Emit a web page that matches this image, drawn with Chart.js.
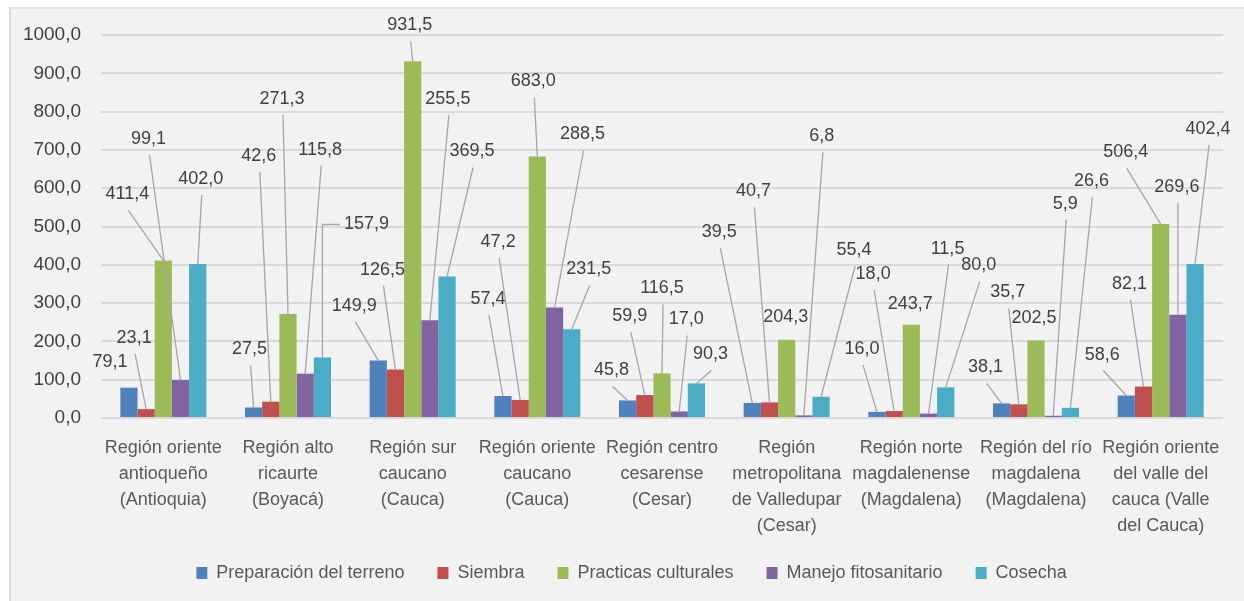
<!DOCTYPE html>
<html>
<head>
<meta charset="utf-8">
<script src="https://cdn.jsdelivr.net/npm/chart.js@4"></script>
<style>
  html, body { margin: 0; padding: 0; background: #fff; }
  #panel { position: absolute; left: 9px; top: 7px; width: 1240px; height: 600px;
           background: #f2f2f2; border-left: 2px solid #d9d9d9; border-top: 2px solid #e3e3e3; }
  #wrap { position: absolute; left: 0; top: 0; width: 1244px; height: 601px; }
</style>
</head>
<body>
<div id="panel"></div>
<div id="wrap"><canvas id="regionChart" width="1244" height="601"></canvas></div>
<script>
// Categories (regions)
const regions = [
  ["Región oriente", "antioqueño", "(Antioquia)"],
  ["Región alto", "ricaurte", "(Boyacá)"],
  ["Región sur", "caucano", "(Cauca)"],
  ["Región oriente", "caucano", "(Cauca)"],
  ["Región centro", "cesarense", "(Cesar)"],
  ["Región", "metropolitana", "de Valledupar", "(Cesar)"],
  ["Región norte", "magdalenense", "(Magdalena)"],
  ["Región del río", "magdalena", "(Magdalena)"],
  ["Región oriente", "del valle del", "cauca (Valle", "del Cauca)"]
];

// Series values
const preparacion = [79.1, 27.5, 149.9, 57.4, 45.8, 39.5, 16.0, 38.1, 58.6];
const siembra = [23.1, 42.6, 126.5, 47.2, 59.9, 40.7, 18.0, 35.7, 82.1];
const practicas = [411.4, 271.3, 931.5, 683.0, 116.5, 204.3, 243.7, 202.5, 506.4];
const manejo = [99.1, 115.8, 255.5, 288.5, 17.0, 6.8, 11.5, 5.9, 269.6];
const cosecha = [402.0, 157.9, 369.5, 231.5, 90.3, 55.4, 80.0, 26.6, 402.4];

const seriesNames = ["Preparación del terreno", "Siembra", "Practicas culturales", "Manejo fitosanitario", "Cosecha"];
const seriesColors = ['#4f81bd', '#c0504d', '#9bbb59', '#8064a2', '#4bacc6'];

// Label placement relative to bar top: [dx, dy, leader] (0 none, 1 straight, 2 elbow)
const labelOffsets = [
  [[-19, -26, 0], [-4, -58, 1], [-24, -55, 1], [-15, -97, 1], [-16, -30, 1], [-33, -171, 1], [-15, -63, 1], [-16, -36, 1], [-24, -41, 1]],
  [[-12, -71, 1], [-12, -246, 1], [-13, -100, 1], [-22, -158, 1], [-15, -79, 1], [-16, -211, 1], [-21, -137, 1], [-11, -112, 1], [-14, -103, 1]],
  [[-36, -66, 1], [-6, -215, 1], [-3, -36, 1], [-4, -75, 1], [0, -85, 1], [-1, -23, 0], [-1, -21, 0], [-2, -22, 0], [-35, -72, 1]],
  [[-32, -241, 1], [15, -224, 1], [18, -221, 1], [28, -173, 1], [7, -92, 1], [18, -279, 1], [19, -165, 1], [12, -212, 1], [-1, -128, 1]],
  [[3, -85, 1], [44, -133, 2], [25, -125, 1], [17, -60, 1], [14, -29, 1], [33, -147, 1], [33, -122, 1], [21, -227, 1], [13, -135, 1]]
];

const fmt = v => v.toFixed(1).replace('.', ',');
const FONT = '"Liberation Sans", Arial, sans-serif';

const leaderLabels = {
  id: 'leaderLabels',
  afterDatasetsDraw(chart) {
    const ctx = chart.ctx;
    ctx.save();
    ctx.font = '18px ' + FONT;
    ctx.textAlign = 'center';
    ctx.textBaseline = 'middle';
    chart.data.datasets.forEach((ds, di) => {
      chart.getDatasetMeta(di).data.forEach((bar, i) => {
        const [dx, dy, mode] = labelOffsets[di][i];
        const lx = bar.x + dx, ly = bar.y + dy;
        const text = fmt(ds.data[i]);
        ctx.strokeStyle = '#a6a6a6';
        ctx.lineWidth = 1.3;
        if (mode === 1) {
          ctx.beginPath();
          ctx.moveTo(lx + 1, ly + 16);
          ctx.lineTo(bar.x, bar.y);
          ctx.stroke();
        } else if (mode === 2) {
          const w = ctx.measureText(text).width;
          ctx.beginPath();
          ctx.moveTo(lx - w / 2 - 4, ly);
          ctx.lineTo(bar.x, ly);
          ctx.lineTo(bar.x, bar.y);
          ctx.stroke();
        }
        ctx.fillStyle = '#404040';
        ctx.fillText(text, lx, ly);
      });
    });
    ctx.restore();
  }
};

// nudge the legend to where the original sits
const legendShift = {
  id: 'legendShift',
  afterLayout(chart) {
    const lg = chart.legend;
    lg.left += 20; lg.right += 20;
    lg.top -= 7; lg.bottom -= 7;
  }
};

const seriesData = [preparacion, siembra, practicas, manejo, cosecha];

const ctx = document.getElementById('regionChart').getContext('2d');
const regionChart = new Chart(ctx, {
  type: 'bar',
  data: {
    labels: regions,
    datasets: seriesData.map((d, k) => ({
      label: seriesNames[k],
      data: d,
      backgroundColor: seriesColors[k],
      borderWidth: 0
    }))
  },
  options: {
    responsive: false,
    animation: false,
    categoryPercentage: 0.69,
    barPercentage: 1.0,
    layout: { padding: { top: 35, right: 21, left: 0, bottom: 2 } },
    plugins: {
      tooltip: { enabled: false },
      legend: {
        position: 'bottom',
        labels: {
          boxWidth: 11,
          boxHeight: 12,
          padding: 33,
          color: '#595959',
          font: { family: FONT, size: 18 }
        }
      }
    },
    scales: {
      x: {
        grid: { display: false, drawTicks: false },
        border: { display: false },
        ticks: {
          color: '#595959',
          font: { family: FONT, size: 18, lineHeight: 1.45 },
          padding: 17,
          maxRotation: 0,
          autoSkip: false
        },
        afterFit(scale) { scale.height = 120; }
      },
      y: {
        min: 0,
        max: 1000,
        grid: { color: '#d9d9d9', lineWidth: 2, drawTicks: false },
        border: { display: false },
        ticks: {
          stepSize: 100,
          color: '#404040',
          font: { family: FONT, size: 19 },
          padding: 20,
          callback: v => fmt(v)
        },
        afterFit(scale) { scale.width = 101; }
      }
    }
  },
  plugins: [leaderLabels, legendShift]
});
</script>
</body>
</html>
